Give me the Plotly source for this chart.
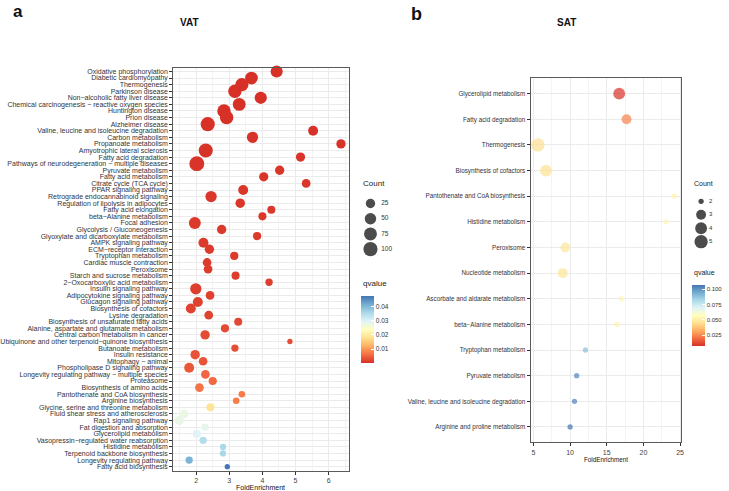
import math
import plotly.graph_objects as go

# ---------------- data ----------------
vat_terms = [
    "Oxidative phosphorylation", "Diabetic cardiomyopathy", "Thermogenesis", "Parkinson disease",
    "Non−alcoholic fatty liver disease", "Chemical carcinogenesis − reactive oxygen species",
    "Huntington disease", "Prion disease", "Alzheimer disease",
    "Valine, leucine and isoleucine degradation", "Carbon metabolism", "Propanoate metabolism",
    "Amyotrophic lateral sclerosis", "Fatty acid degradation",
    "Pathways of neurodegeneration − multiple diseases", "Pyruvate metabolism",
    "Fatty acid metabolism", "Citrate cycle (TCA cycle)", "PPAR signaling pathway",
    "Retrograde endocannabinoid signaling", "Regulation of lipolysis in adipocytes",
    "Fatty acid elongation", "beta−Alanine metabolism", "Focal adhesion",
    "Glycolysis / Gluconeogenesis", "Glyoxylate and dicarboxylate metabolism",
    "AMPK signaling pathway", "ECM−receptor interaction", "Tryptophan metabolism",
    "Cardiac muscle contraction", "Peroxisome", "Starch and sucrose metabolism",
    "2−Oxocarboxylic acid metabolism", "Insulin signaling pathway",
    "Adipocytokine signaling pathway", "Glucagon signaling pathway", "Biosynthesis of cofactors",
    "Lysine degradation", "Biosynthesis of unsaturated fatty acids",
    "Alanine, aspartate and glutamate metabolism", "Central carbon metabolism in cancer",
    "Ubiquinone and other terpenoid−quinone biosynthesis", "Butanoate metabolism",
    "Insulin resistance", "Mitophagy − animal", "Phospholipase D signaling pathway",
    "Longevity regulating pathway − multiple species", "Proteasome",
    "Biosynthesis of amino acids", "Pantothenate and CoA biosynthesis", "Arginine biosynthesis",
    "Glycine, serine and threonine metabolism", "Fluid shear stress and atherosclerosis",
    "Rap1 signaling pathway", "Fat digestion and absorption", "Glycerolipid metabolism",
    "Vasopressin−regulated water reabsorption", "Histidine metabolism",
    "Terpenoid backbone biosynthesis", "Longevity regulating pathway", "Fatty acid biosynthesis",
]
vat_fold = [
    4.43, 3.67, 3.38, 3.17, 3.95, 3.30, 2.84, 2.92, 2.35, 5.53,
    3.70, 6.37, 2.29, 5.15, 2.02, 4.52, 4.04, 5.32, 3.42, 2.45,
    3.33, 4.27, 4.00, 1.96, 2.77, 3.84, 2.22, 2.40, 3.15, 2.33,
    2.36, 3.19, 4.20, 1.99, 2.42, 2.05, 1.84, 2.38, 3.27, 2.87,
    2.27, 4.83, 3.17, 1.97, 2.21, 1.79, 2.28, 2.50, 2.10, 3.38,
    3.21, 2.43, 1.64, 1.49, 2.27, 2.02, 2.21, 2.81, 2.81, 1.79, 2.94,
]
vat_count = [
    60, 70, 80, 82, 62, 72, 85, 85, 98, 31,
    48, 24, 98, 24, 115, 24, 24, 19, 31, 48,
    26, 14, 14, 58, 25, 15, 31, 25, 15, 19,
    19, 14, 10, 48, 19, 31, 31, 19, 14, 15,
    25, 5, 10, 25, 19, 31, 19, 15, 19, 7,
    7, 14, 19, 25, 10, 14, 10, 6, 6, 10, 5,
]
vat_q = [
    0.0006, 0.0006, 0.0006, 0.0006, 0.0007, 0.0007, 0.0007, 0.0007, 0.0008, 0.0008,
    0.0009, 0.0009, 0.0009, 0.0010, 0.0010, 0.0011, 0.0011, 0.0012, 0.0012, 0.0013,
    0.0013, 0.0014, 0.0014, 0.0015, 0.0015, 0.0016, 0.0016, 0.0017, 0.0017, 0.0018,
    0.0018, 0.0019, 0.0020, 0.0020, 0.0022, 0.0022, 0.0023, 0.0024, 0.0030, 0.0031,
    0.0032, 0.0033, 0.0034, 0.0040, 0.0042, 0.0044, 0.0058, 0.0060, 0.0070, 0.0078,
    0.0080, 0.0190, 0.0280, 0.0282, 0.0290, 0.0300, 0.0350, 0.0360, 0.0362, 0.0410, 0.0478,
]

sat_terms = [
    "Glycerolipid metabolism", "Fatty acid degradation", "Thermogenesis",
    "Biosynthesis of cofactors", "Pantothenate and CoA biosynthesis", "Histidine metabolism",
    "Peroxisome", "Nucleotide metabolism", "Ascorbate and aldarate metabolism",
    "beta−Alanine metabolism", "Tryptophan metabolism", "Pyruvate metabolism",
    "Valine, leucine and isoleucine degradation", "Arginine and proline metabolism",
]
sat_fold = [16.7, 17.7, 5.6, 6.7, 24.2, 23.1, 9.35, 9.0, 17.0, 16.4, 12.1, 10.9, 10.6, 10.0]
sat_count = [4, 3, 5, 4, 2, 2, 3, 3, 2, 2, 2, 2, 2, 2]
sat_q = [0.0075, 0.024, 0.045, 0.046, 0.053, 0.053, 0.047, 0.047, 0.054, 0.052,
         0.089, 0.104, 0.104, 0.107]

vat_count_breaks = [25, 50, 75, 100]
sat_count_breaks = [2, 3, 4, 5]
vat_q_ticks = [0.01, 0.02, 0.03, 0.04]
sat_q_ticks = [0.025, 0.050, 0.075, 0.100]
vat_x_ticks = [2, 3, 4, 5, 6]
sat_x_ticks = [5, 10, 15, 20, 25]

# ---------------- styling helpers ----------------
W, H = 729, 491
FONT = "Liberation Sans, Arial, sans-serif"


def px(x):
    return x / W


def py(y):
    return 1 - y / H


rdylbu = ["#d73027", "#f46d43", "#fdae61", "#fee090", "#ffffbf",
          "#e0f3f8", "#abd9e9", "#74add1", "#4575b4"]
cscale = [[i / (len(rdylbu) - 1), c] for i, c in enumerate(rdylbu)]


def diam(vals, cmin, cmax, dmin, dmax):
    return [dmin + (dmax - dmin) * math.sqrt(max(v - cmin, 0) / (cmax - cmin)) for v in vals]


vmin, vmax = min(vat_count), max(vat_count)
smin, smax = min(sat_count), max(sat_count)

fig = go.Figure()

# VAT dots
fig.add_trace(go.Scatter(
    x=vat_fold, y=vat_terms, mode="markers", xaxis="x", yaxis="y",
    marker=dict(size=diam(vat_count, vmin, vmax, 5.3, 14.9), color=vat_q,
                colorscale=cscale, cmin=min(vat_q), cmax=max(vat_q), line=dict(width=0),
                opacity=1,
                colorbar=dict(x=px(362), xanchor="left", y=py(329), yanchor="middle",
                              thickness=13, len=66.6, lenmode="pixels", outlinewidth=0,
                              tickvals=vat_q_ticks, ticktext=[f"{v:.2f}" for v in vat_q_ticks],
                              ticks="inside", ticklen=3, tickcolor="white",
                              tickfont=dict(size=6.5, color="#333", family=FONT),
                              xpad=0, ypad=0)),
    cliponaxis=False, showlegend=False, hoverinfo="x+y"))

# SAT dots
fig.add_trace(go.Scatter(
    x=sat_fold, y=sat_terms, mode="markers", xaxis="x2", yaxis="y2",
    marker=dict(size=diam(sat_count, smin, smax, 5.3, 13.3), color=sat_q,
                colorscale=cscale, cmin=min(sat_q), cmax=max(sat_q), line=dict(width=0),
                colorbar=dict(x=px(695), xanchor="left", y=py(315.5), yanchor="middle",
                              thickness=12.6, len=61, lenmode="pixels", outlinewidth=0,
                              tickvals=sat_q_ticks, ticktext=[f"{v:.3f}" for v in sat_q_ticks],
                              ticks="inside", ticklen=3, tickcolor="white",
                              tickfont=dict(size=6, color="#333", family=FONT),
                              xpad=0, ypad=0)),
    cliponaxis=False, showlegend=False, hoverinfo="x+y"))

# size legends (on hidden axes)
vat_lab = [str(b) for b in vat_count_breaks]
sat_lab = [str(b) for b in sat_count_breaks]
fig.add_trace(go.Scatter(
    x=[0.25] * 4, y=vat_lab, mode="markers", xaxis="x3", yaxis="y3",
    marker=dict(size=diam(vat_count_breaks, vmin, vmax, 5.3, 14.9), color="black", line=dict(width=0)),
    cliponaxis=False, showlegend=False, hoverinfo="skip"))
fig.add_trace(go.Scatter(
    x=[0.52] * 4, y=vat_lab, mode="text", text=vat_lab, textposition="middle right",
    xaxis="x3", yaxis="y3", textfont=dict(size=6.5, color="#333", family=FONT),
    cliponaxis=False, showlegend=False, hoverinfo="skip"))
fig.add_trace(go.Scatter(
    x=[0.25] * 4, y=sat_lab, mode="markers", xaxis="x4", yaxis="y4",
    marker=dict(size=diam(sat_count_breaks, smin, smax, 5.3, 13.3), color="black", line=dict(width=0)),
    cliponaxis=False, showlegend=False, hoverinfo="skip"))
fig.add_trace(go.Scatter(
    x=[0.5] * 4, y=sat_lab, mode="text", text=sat_lab, textposition="middle right",
    xaxis="x4", yaxis="y4", textfont=dict(size=6, color="#333", family=FONT),
    cliponaxis=False, showlegend=False, hoverinfo="skip"))

GRID = "#ebebeb"
MINOR = "#f4f4f4"
BORDER = "#5a5a5a"
TICKC = "#333333"

common_x = dict(showline=True, mirror=True, linecolor=BORDER, linewidth=1, ticks="outside",
                ticklen=3, tickcolor=TICKC, showgrid=True, gridcolor=GRID, gridwidth=1,
                zeroline=False, tickfont=dict(size=7, color="#444", family=FONT))
common_y = dict(showline=True, mirror=True, linecolor=BORDER, linewidth=1, ticks="outside",
                ticklen=3, tickcolor=TICKC, showgrid=True, gridcolor=GRID, gridwidth=1,
                zeroline=False, type="category", tickmode="array")

fig.update_layout(
    width=W, height=H, margin=dict(l=0, r=0, t=0, b=0),
    paper_bgcolor="white", plot_bgcolor="white",
    font=dict(family=FONT, color="#222"),
    xaxis=dict(domain=[px(174), px(350)], anchor="y", range=[1.31, 6.6], tickvals=vat_x_ticks,
               minor=dict(dtick=0.5, tick0=2, showgrid=True, gridcolor=MINOR, gridwidth=0.6, ticks=""),
               **common_x),
    yaxis=dict(domain=[py(470.6), py(67.5)], anchor="x", categoryorder="array",
               categoryarray=vat_terms, tickvals=vat_terms, range=[len(vat_terms) - 0.4, -0.6],
               tickfont=dict(size=7, color="#333338", family=FONT), **common_y),
    xaxis2=dict(domain=[px(532.7), px(684.3)], anchor="y2", range=[4.6, 25.2], tickvals=sat_x_ticks,
                minor=dict(dtick=2.5, tick0=5, showgrid=True, gridcolor=MINOR, gridwidth=0.6, ticks=""),
                **common_x),
    yaxis2=dict(domain=[py(442.3), py(78.3)], anchor="x2", categoryorder="array",
                categoryarray=sat_terms, tickvals=sat_terms, range=[len(sat_terms) - 0.4, -0.6],
                tickfont=dict(size=6.3, color="#333338", family=FONT), **common_y),
    xaxis3=dict(domain=[px(362), px(402)], anchor="y3", range=[0, 1], visible=False),
    yaxis3=dict(domain=[py(256.7), py(195.9)], anchor="x3", type="category",
                categoryarray=vat_lab, categoryorder="array", range=[3.5, -0.5], visible=False),
    xaxis4=dict(domain=[px(696), px(728)], anchor="y4", range=[0, 1], visible=False),
    yaxis4=dict(domain=[py(248.4), py(194.6)], anchor="x4", type="category",
                categoryarray=sat_lab, categoryorder="array", range=[3.5, -0.5], visible=False),
)

# panel letters (anchored at top so they stay inside the page)
fig.add_annotation(text="<b>a</b>", x=px(18), y=py(0), xref="paper", yref="paper",
                   showarrow=False, xanchor="center", yanchor="top",
                   font=dict(size=17, color="#111", family=FONT))
fig.add_annotation(text="<b>b</b>", x=px(418.5), y=py(2), xref="paper", yref="paper",
                   showarrow=False, xanchor="center", yanchor="top",
                   font=dict(size=18, color="#111", family=FONT))

ann = [
    dict(text="<b>VAT</b>", x=px(190.5), y=py(22), size=10),
    dict(text="<b>SAT</b>", x=px(569.3), y=py(22), size=10),
    dict(text="FoldEnrichment", x=px(261.7), y=py(487.3), size=7),
    dict(text="FoldEnrichment", x=px(608.3), y=py(459.3), size=6.3),
]
for a in ann:
    fig.add_annotation(text=a["text"], x=a["x"], y=a["y"], xref="paper", yref="paper",
                       showarrow=False, xanchor="center", yanchor="middle",
                       font=dict(size=a["size"], color="#111", family=FONT))

left_ann = [
    dict(text="Count", x=px(362), y=py(183.5), size=8),
    dict(text="qvalue", x=px(362), y=py(283), size=8),
    dict(text="Count", x=px(694.5), y=py(184), size=7),
    dict(text="qvalue", x=px(694.5), y=py(273.3), size=7),
]
for a in left_ann:
    fig.add_annotation(text=a["text"], x=a["x"], y=a["y"], xref="paper", yref="paper",
                       showarrow=False, xanchor="left", yanchor="middle",
                       font=dict(size=a["size"], color="#222", family=FONT))

fig.write_html("out.html", config={"displayModeBar": False},
               post_script="document.body.style.margin='0';document.body.style.overflow='hidden';")
